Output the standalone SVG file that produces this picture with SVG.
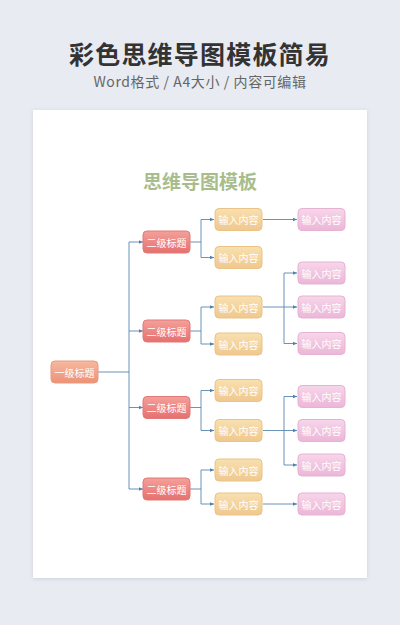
<svg xmlns="http://www.w3.org/2000/svg" width="400" height="625" viewBox="0 0 400 625">
<defs>
<linearGradient id="g1" x1="0" y1="0" x2="0" y2="1"><stop offset="0" stop-color="#f6b9a0"/><stop offset="1" stop-color="#ec9276"/></linearGradient>
<linearGradient id="g2" x1="0" y1="0" x2="0" y2="1"><stop offset="0" stop-color="#f4a09a"/><stop offset="1" stop-color="#e6706e"/></linearGradient>
<linearGradient id="g3" x1="0" y1="0" x2="0" y2="1"><stop offset="0" stop-color="#f8e0b0"/><stop offset="1" stop-color="#efc88e"/></linearGradient>
<linearGradient id="g4" x1="0" y1="0" x2="0" y2="1"><stop offset="0" stop-color="#f7d6ea"/><stop offset="1" stop-color="#ecb6d8"/></linearGradient>
<filter id="sh" x="-5%" y="-5%" width="110%" height="110%"><feDropShadow dx="0" dy="1" stdDeviation="2" flood-color="#9aa3b8" flood-opacity="0.35"/></filter>
<marker id="ar" markerWidth="5" markerHeight="5" refX="4.5" refY="2.5" orient="auto" markerUnits="userSpaceOnUse"><path d="M0,0.5 L4.5,2.5 L0,4.5 Z" fill="#4f80ac"/></marker>
</defs>
<style>
.hd{font-family:"Noto Sans CJK SC","Noto Sans",sans-serif;text-anchor:middle}
.n rect{stroke-width:1}
.l1 rect{fill:url(#g1);stroke:#e89a80}
.l2 rect{fill:url(#g2);stroke:#e07a76}
.l3 rect{fill:url(#g3);stroke:#e9c486}
.l4 rect{fill:url(#g4);stroke:#e6b2d2}
.n text{font-family:"Noto Sans CJK SC","Noto Sans",sans-serif;font-size:10px;fill:#ffffff;text-anchor:middle;dominant-baseline:central}
.c path{fill:none;stroke:#5a87b0;stroke-width:0.9}
</style>
<rect width="400" height="625" fill="#e8ebf2"/>
<text class="hd" x="200" y="64" font-size="25" font-weight="bold" fill="#333333" letter-spacing="1.2">彩色思维导图模板简易</text>
<text class="hd" x="200" y="87" font-size="14" fill="#666666" letter-spacing="0.6">Word格式 / A4大小 / 内容可编辑</text>
<rect x="33" y="110" width="334" height="468" fill="#ffffff" filter="url(#sh)"/>
<text class="hd" x="200" y="189" font-size="19" font-weight="bold" fill="#a9bd8c">思维导图模板</text>

<g class="c">
<path d="M98,372 H129"/>
<path d="M129,242 V489"/>
<path d="M129,242 H143" marker-end="url(#ar)"/>
<path d="M129,331 H143" marker-end="url(#ar)"/>
<path d="M129,407.5 H143" marker-end="url(#ar)"/>
<path d="M129,489 H143" marker-end="url(#ar)"/>
<path d="M190,242 H201 M201,219.5 V257.5"/>
<path d="M201,219.5 H214" marker-end="url(#ar)"/>
<path d="M201,257.5 H214" marker-end="url(#ar)"/>
<path d="M190,331 H201 M201,307 V344"/>
<path d="M201,307 H214" marker-end="url(#ar)"/>
<path d="M201,344 H214" marker-end="url(#ar)"/>
<path d="M190,407.5 H201 M201,390.5 V430.5"/>
<path d="M201,390.5 H214" marker-end="url(#ar)"/>
<path d="M201,430.5 H214" marker-end="url(#ar)"/>
<path d="M190,489 H201 M201,470 V504"/>
<path d="M201,470 H214" marker-end="url(#ar)"/>
<path d="M201,504 H214" marker-end="url(#ar)"/>
<path d="M263,219.5 H297" marker-end="url(#ar)"/>
<path d="M263,307 H284 M284,273 V343.5"/>
<path d="M284,273 H297" marker-end="url(#ar)"/>
<path d="M284,307 H297" marker-end="url(#ar)"/>
<path d="M284,343.5 H297" marker-end="url(#ar)"/>
<path d="M263,430.5 H284 M284,396.5 V465"/>
<path d="M284,396.5 H297" marker-end="url(#ar)"/>
<path d="M284,430.5 H297" marker-end="url(#ar)"/>
<path d="M284,465 H297" marker-end="url(#ar)"/>
<path d="M263,504 H297" marker-end="url(#ar)"/>
</g>

<g id="root" class="n l1"><rect x="51" y="361" width="47" height="22" rx="4"/><text x="74.5" y="372">一级标题</text></g>

<g id="b1" class="n l2"><rect x="143" y="231" width="47" height="22" rx="4"/><text x="166.5" y="242">二级标题</text></g>
<g id="b2" class="n l2"><rect x="143" y="320" width="47" height="22" rx="4"/><text x="166.5" y="331">二级标题</text></g>
<g id="b3" class="n l2"><rect x="143" y="396.5" width="47" height="22" rx="4"/><text x="166.5" y="407.5">二级标题</text></g>
<g id="b4" class="n l2"><rect x="143" y="478" width="47" height="22" rx="4"/><text x="166.5" y="489">二级标题</text></g>

<g id="c1" class="n l3"><rect x="215" y="208.5" width="47" height="22" rx="4"/><text x="238.5" y="219.5">输入内容</text></g>
<g id="c2" class="n l3"><rect x="215" y="246.5" width="47" height="22" rx="4"/><text x="238.5" y="257.5">输入内容</text></g>
<g id="c3" class="n l3"><rect x="215" y="296" width="47" height="22" rx="4"/><text x="238.5" y="307">输入内容</text></g>
<g id="c4" class="n l3"><rect x="215" y="333" width="47" height="22" rx="4"/><text x="238.5" y="344">输入内容</text></g>
<g id="c5" class="n l3"><rect x="215" y="379.5" width="47" height="22" rx="4"/><text x="238.5" y="390.5">输入内容</text></g>
<g id="c6" class="n l3"><rect x="215" y="419.5" width="47" height="22" rx="4"/><text x="238.5" y="430.5">输入内容</text></g>
<g id="c7" class="n l3"><rect x="215" y="459" width="47" height="22" rx="4"/><text x="238.5" y="470">输入内容</text></g>
<g id="c8" class="n l3"><rect x="215" y="493" width="47" height="22" rx="4"/><text x="238.5" y="504">输入内容</text></g>

<g id="d1" class="n l4"><rect x="298" y="208.5" width="47" height="22" rx="4"/><text x="321.5" y="219.5">输入内容</text></g>
<g id="d2" class="n l4"><rect x="298" y="262" width="47" height="22" rx="4"/><text x="321.5" y="273">输入内容</text></g>
<g id="d3" class="n l4"><rect x="298" y="296" width="47" height="22" rx="4"/><text x="321.5" y="307">输入内容</text></g>
<g id="d4" class="n l4"><rect x="298" y="332.5" width="47" height="22" rx="4"/><text x="321.5" y="343.5">输入内容</text></g>
<g id="d5" class="n l4"><rect x="298" y="385.5" width="47" height="22" rx="4"/><text x="321.5" y="396.5">输入内容</text></g>
<g id="d6" class="n l4"><rect x="298" y="419.5" width="47" height="22" rx="4"/><text x="321.5" y="430.5">输入内容</text></g>
<g id="d7" class="n l4"><rect x="298" y="454" width="47" height="22" rx="4"/><text x="321.5" y="465">输入内容</text></g>
<g id="d8" class="n l4"><rect x="298" y="493" width="47" height="22" rx="4"/><text x="321.5" y="504">输入内容</text></g>
</svg>
